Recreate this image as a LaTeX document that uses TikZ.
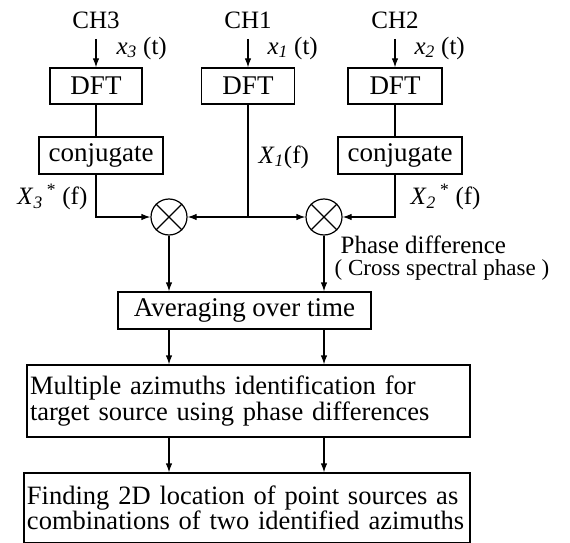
\documentclass[tikz,border=0pt]{standalone}
\usepackage{fontspec}
\setmainfont{Liberation Serif}
\usetikzlibrary{arrows.meta,positioning,calc}

\begin{document}
\begin{tikzpicture}[x=1pt,y=-1pt,line width=1.2pt,
  >={Latex[length=9pt,width=6.5pt]},
  blk/.style={draw,inner sep=0pt,minimum height=36pt,font=\fontsize{27}{27}\selectfont},
  wide/.style={blk,inner xsep=3pt,align=left,font=\fontsize{26.5}{26.5}\selectfont},
  mult/.style={draw,circle,minimum size=36pt,inner sep=0pt},
  lbl/.style={inner sep=0pt,font=\fontsize{25}{25}\selectfont}]
\useasboundingbox (0,0) rectangle (570,543);

% channels
\node [lbl] (ch3) at (96,20) {CH3};
\node [lbl] (ch1) at (248,20) {CH1};
\node [lbl] (ch2) at (395,20) {CH2};
\node [lbl,anchor=west] (x3) at (116,48) {\textit{x}\textsubscript{\textit{3}} (t)};
\node [lbl,anchor=west] (x1) at (267,48) {\textit{x}\textsubscript{\textit{1}} (t)};
\node [lbl,anchor=west] (x2) at (414,48) {\textit{x}\textsubscript{\textit{2}} (t)};
%
\node [blk,minimum width=92pt] (dft3) at (96,86) {DFT};
\node [blk,minimum width=93pt] (dft1) at (248,86) {DFT};
\node [blk,minimum width=94pt] (dft2) at (395,86) {DFT};
%
\node [blk,minimum width=124pt,minimum height=37pt] (conj3) at (101,155.5) {conjugate};
\node [blk,minimum width=124pt,minimum height=37pt] (conj2) at (400,155.5) {conjugate};
\node [lbl,anchor=east] (X3) at (88,197) {\textit{X}\textsubscript{\textit{3}}\,\textsuperscript{*} (f)};
\node [lbl,anchor=west] (X1) at (258,157) {\textit{X}\textsubscript{\textit{1}}(f)};
\node [lbl,anchor=west] (X2) at (410,197) {\textit{X}\textsubscript{\textit{2}}\,\textsuperscript{*} (f)};
%
\node [mult] (lc) at (169,217) {};
\node [mult] (rc) at (324,217) {};
\draw (lc.north west) -- (lc.south east) (lc.north east) -- (lc.south west);
\draw (rc.north west) -- (rc.south east) (rc.north east) -- (rc.south west);
\node [lbl,anchor=west] (ph) at (340,245) {Phase difference};
\node [lbl,anchor=west,font=\fontsize{23}{23}\selectfont] (csp) at (334,270) {( Cross spectral phase )};
%
\node [blk,minimum width=253pt,minimum height=37pt] (avg) at (244.5,310.5) {Averaging over time};
\node [wide,text width=437pt,minimum height=72pt] (multi) at (248.5,401)
  {Multiple azimuths identification for\\[-1pt] target source using phase differences};
\node [wide,text width=440pt,minimum height=70pt] (final) at (247,508)
  {Finding 2D location of point sources as\\[-1pt] combinations of two identified azimuths};

% connectors
\draw [->] ([yshift=-10pt]ch3.south) -- (dft3);
\draw [->] ([yshift=-10pt]ch1.south) -- (dft1);
\draw [->] ([yshift=-10pt]ch2.south) -- (dft2);
\draw (dft3) -- (dft3 |- conj3.north);
\draw (dft2) -- (dft2 |- conj2.north);
\draw [->] (conj3.south -| dft3) |- (lc);
\draw [->] (conj2.south -| dft2) |- (rc);
\coordinate (j) at (dft1 |- lc);
\draw (dft1) -- (j);
\draw [->] (j) -- (lc);
\draw [->] (j) -- (rc);
%
\draw [->] (lc) -- (lc |- avg.north);
\draw [->] (rc) -- (rc |- avg.north);
\draw [->] (lc |- avg.south) -- (lc |- multi.north);
\draw [->] (rc |- avg.south) -- (rc |- multi.north);
\draw [->] (lc |- multi.south) -- (lc |- final.north);
\draw [->] (rc |- multi.south) -- (rc |- final.north);

\end{tikzpicture}
\end{document}
